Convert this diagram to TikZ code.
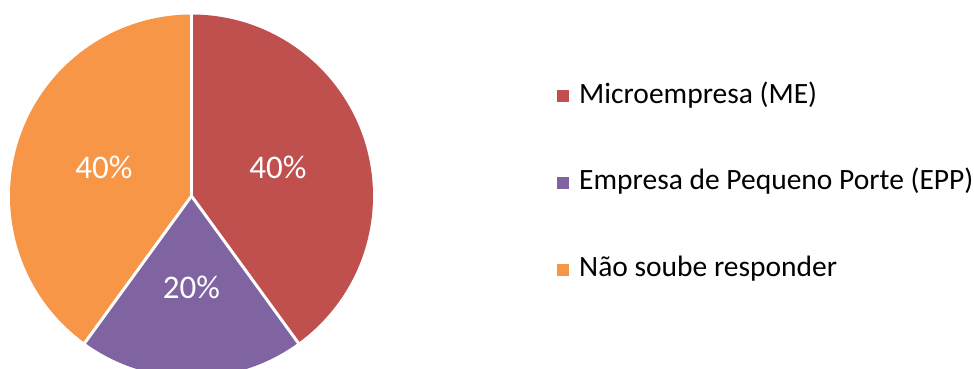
\documentclass[tikz,border=0pt]{standalone}
\usepackage{fontspec}
\setmainfont{Carlito}
\definecolor{me}{HTML}{C0504D}
\definecolor{epp}{HTML}{8064A2}
\definecolor{nsr}{HTML}{F79646}
\tikzset{pct/.style={white,font=\fontsize{33}{38}\selectfont},
  key/.style={anchor=base west,inner sep=0pt,font=\fontsize{29.5}{34}\selectfont},
  swatch/.style={minimum size=12pt,inner sep=0pt}}
\begin{document}
\begin{tikzpicture}[x=1pt,y=1pt]
  \useasboundingbox (0,0) rectangle (974,369);
  \clip (0,0) rectangle (974,369);
  \coordinate (O) at (191.5,173);
  \fill[me](O)--++(90:181.5)arc(90:-54:181.5)--cycle;
  \fill[epp](O)--++(-54:181.5)arc(-54:-126:181.5)--cycle;
  \fill[nsr](O)--++(-126:181.5)arc(-126:-270:181.5)--cycle;
  \foreach \a in {90,-54,-126}\draw[white,line width=3pt](O)--++(\a:190);
  \node[pct](p1)at(278,202){40\%};
  \node[pct](p2)at(191.5,82){20\%};
  \node[pct](p3)at(104,202){40\%};
  % legend
  \node[swatch,fill=me](s1)at(563,273){};
  \node[swatch,fill=epp](s2)at(563,186){};
  \node[swatch,fill=nsr](s3)at(563,98.5){};
  \node[key](k1)at(579,265.5){Microempresa (ME)};
  \node[key](k2)at(579,179){Empresa de Pequeno Porte (EPP)};
  \node[key](k3)at(579,92.3){Não soube responder};
\end{tikzpicture}
\end{document}
